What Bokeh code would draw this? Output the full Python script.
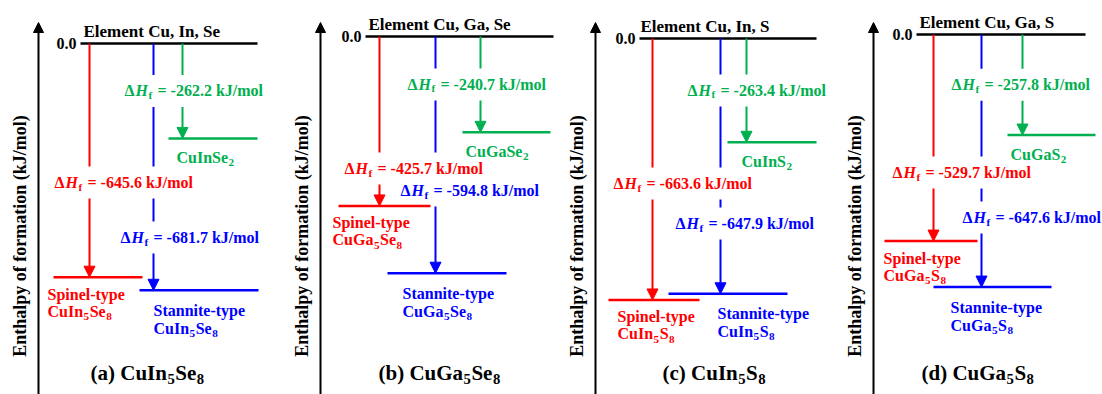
import re
import numpy as np
from bokeh.plotting import figure
from bokeh.layouts import row
from bokeh.models import Range1d, Arrow, NormalHead
from bokeh.core.properties import value
from bokeh.embed import file_html
from bokeh.resources import INLINE

# ---------------- data ----------------
panel_tags = ["(a)", "(b)", "(c)", "(d)"]
compounds = ["CuIn5Se8", "CuGa5Se8", "CuIn5S8", "CuGa5S8"]
elements = ["Element Cu, In, Se", "Element Cu, Ga, Se", "Element Cu, In, S", "Element Cu, Ga, S"]
ternary = ["CuInSe2", "CuGaSe2", "CuInS2", "CuGaS2"]
dH_ternary = [-262.2, -240.7, -263.4, -257.8]
dH_spinel = [-645.6, -425.7, -663.6, -529.7]
dH_stannite = [-681.7, -594.8, -647.9, -647.6]
spinel_name = "Spinel-type"
stannite_name = "Stannite-type"
zero_label = "0.0"
y_label = "Enthalpy  of formation  (kJ/mol)"

# ---------------- layout (page pixels) ----------------
FONT = value("Liberation Serif")
RED, BLUE, GREEN = "#FF0000", "#0000FF", "#00B050"
FIG_LEFT = [0, 282, 560, 838]
FIG_W = [282, 278, 278, 264]
FIG_TOP, FIG_H = 0, 394
K = [0.362, 0.398, 0.394, 0.390]          # px per kJ/mol in each panel
AXIS_X = [38, 320, 595, 873]
TOP_Y = [43, 36, 38, 34]
TOPLINE = [(80, 257), (365, 553), (639, 816), (916, 1085)]
ELEM_X = [83, 368, 640, 919]
RED_X = [89, 379, 652, 933]
BLUE_X = [153, 435, 720, 981]
GREEN_X = [182, 480, 746, 1022]
RED_LVL = [(53, 142), (338, 430), (608, 699), (884, 977)]
BLUE_LVL = [(139, 258), (387, 506), (668, 787), (933, 1051)]
GREEN_LVL = [(168, 257), (462, 550), (727, 816), (1007, 1095)]
RED_LBL = [(54, 182), (344, 168), (613, 183), (892, 172)]
BLUE_LBL = [(120, 237), (400, 190), (675, 223), (962, 217)]
GREEN_LBL_X = [124, 407, 687, 951]
RED_CMP_X = [47, 332, 617, 883]
BLUE_CMP_X = [153, 402, 717, 950]
GREEN_CMP_X = [176, 465, 741, 1010]
TITLE_X = [90, 378, 662, 921]
TITLE_Y = 372
LBL_W, GAP_H = 141, 16

# advance widths (1/1000 em) of Times-metric bold serif
ADV = {"C": 722, "u": 556, "I": 389, "n": 556, "S": 556, "e": 444, "G": 778,
       "a": 500, "(": 333, ")": 333, " ": 250, "b": 556, "c": 444, "d": 556}


def make_panel(i):
    k, top, L, W = K[i], TOP_Y[i], FIG_LEFT[i], FIG_W[i]

    def Y(px):
        return -(px - top) / k

    def X(px):
        return px - L

    p = figure(width=W, height=FIG_H, x_range=Range1d(0, W),
               y_range=Range1d(Y(FIG_TOP + FIG_H), Y(FIG_TOP)),
               output_backend="svg", toolbar_location=None, min_border=0,
               x_axis_location=None, y_axis_location=None, title=None,
               outline_line_color=None, background_fill_color="white")
    p.grid.visible = False

    def txt(px, py, s, color="black", size=16, style="bold", align="left", angle=0.0, yval=None):
        p.text(x=[X(px)], y=[Y(py) if yval is None else yval], text=[s], text_font=FONT,
               text_font_size=f"{size}px", text_font_style=style, text_color=color,
               text_align=align, text_baseline="middle", angle=angle)

    def formula(px, py, s, color="black", size=16):
        sub = size * 0.7
        cx = px
        for r in re.findall(r"\d+|\D+", s):
            if r.isdigit():
                txt(cx + 0.5, py + size * 0.32, r, color=color, size=round(sub, 1))
                cx += 0.5 * sub * len(r) + 1
            else:
                txt(cx, py, r, color=color, size=size)
                cx += sum(ADV.get(ch, 500) for ch in r) / 1000 * size

    levels = {RED: dH_spinel[i], BLUE: dH_stannite[i], GREEN: dH_ternary[i]}
    lvl_px = {c: top - v * k for c, v in levels.items()}
    line_x = {RED: RED_X[i], BLUE: BLUE_X[i], GREEN: GREEN_X[i]}
    lvl_span = {RED: RED_LVL[i], BLUE: BLUE_LVL[i], GREEN: GREEN_LVL[i]}

    green_lbl_y = (top + lvl_px[GREEN]) / 2
    labels = [(RED, RED_LBL[i][0], RED_LBL[i][1], dH_spinel[i]),
              (BLUE, BLUE_LBL[i][0], BLUE_LBL[i][1], dH_stannite[i]),
              (GREEN, GREEN_LBL_X[i], green_lbl_y, dH_ternary[i])]

    # axis arrow + label
    p.add_layout(Arrow(end=NormalHead(size=10, fill_color="black", line_color="black"),
                       x_start=X(AXIS_X[i]), y_start=Y(FIG_TOP + FIG_H),
                       x_end=X(AXIS_X[i]), y_end=Y(22), line_color="black", line_width=2))
    txt(AXIS_X[i] - 19, 231, y_label, size=18, align="center", angle=np.pi / 2)

    # zero line
    p.segment(x0=[X(TOPLINE[i][0])], x1=[X(TOPLINE[i][1])], y0=[0], y1=[0],
              line_color="black", line_width=2.5)
    txt(TOPLINE[i][0] - 4, top, zero_label, align="right", yval=0)
    txt(ELEM_X[i], top - 12, elements[i], size=17)

    # broken vertical lines with arrow heads, and level lines
    for c in (RED, BLUE, GREEN):
        lx = line_x[c]
        gaps = sorted((ly - GAP_H, ly + GAP_H) for (_, lft, ly, _) in labels
                      if lft - 2 <= lx <= lft + LBL_W + 2)
        y_cur = top
        for g0, g1 in gaps:
            if g0 >= lvl_px[c] - 12:
                break
            if g0 > y_cur:
                p.segment(x0=[X(lx)], x1=[X(lx)], y0=[Y(y_cur)], y1=[Y(g0)],
                          line_color=c, line_width=2)
            y_cur = max(y_cur, g1)
        p.add_layout(Arrow(end=NormalHead(size=11, fill_color=c, line_color=c),
                           x_start=X(lx), y_start=Y(y_cur), x_end=X(lx),
                           y_end=levels[c], line_color=c, line_width=2))
        p.segment(x0=[X(lvl_span[c][0])], x1=[X(lvl_span[c][1])],
                  y0=[levels[c]], y1=[levels[c]], line_color=c, line_width=2.5)

    # ΔHf labels
    for c, lft, ly, v in labels:
        txt(lft, ly, "Δ", color=c)
        txt(lft + 11, ly, "H", color=c, style="bold italic")
        txt(lft + 24, ly + 4, "f", color=c, size=11)
        txt(lft + 33, ly, f"= {v:.1f} kJ/mol", color=c)

    # compound labels
    rp, bp, gp = lvl_px[RED], lvl_px[BLUE], lvl_px[GREEN]
    txt(RED_CMP_X[i], rp + 17, spinel_name, color=RED)
    formula(RED_CMP_X[i], rp + 34, compounds[i], color=RED)
    txt(BLUE_CMP_X[i], bp + 20, stannite_name, color=BLUE)
    formula(BLUE_CMP_X[i], bp + 38, compounds[i], color=BLUE)
    formula(GREEN_CMP_X[i], gp + 19, ternary[i], color=GREEN)

    # panel title
    formula(TITLE_X[i], TITLE_Y, f"{panel_tags[i]} {compounds[i]}", size=21)
    return p


figs = [make_panel(i) for i in range(4)]
layout = row(*figs, spacing=0)
open("out.html", "w").write(file_html(layout, INLINE))
